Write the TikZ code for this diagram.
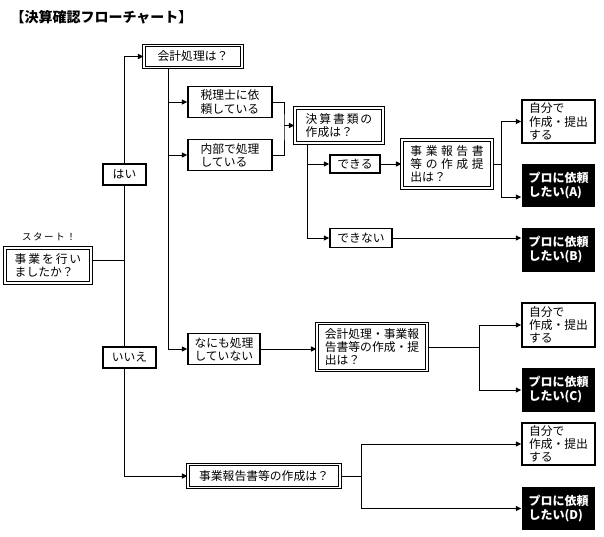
\documentclass[tikz,border=0pt]{standalone}
\usepackage{fontspec}
\setmainfont{Noto Sans CJK JP}
\newfontfamily\widejp[LetterSpace=16]{Noto Sans CJK JP}
\newfontfamily\widerjp[LetterSpace=30]{Noto Sans CJK JP}
\usetikzlibrary{arrows.meta}
\tikzset{box/.style={draw,line width=1.4pt,fill=white,inner sep=0pt,align=left,font=\fontsize{11.8}{13.2}\selectfont}}
\tikzset{qbox/.style={box,double,line width=1.1pt,double distance=1.3pt}}
\tikzset{probox/.style={box,draw=none,fill=black,text=white,font=\fontsize{12}{14}\selectfont\bfseries}}

\begin{document}
\begin{tikzpicture}[x=1pt,y=-1pt,line width=1pt,arr/.style={-{Triangle[length=5.5pt,width=5pt]}}]
\useasboundingbox (0,0) rectangle (604,536);
\node[anchor=west,inner sep=0pt,font=\fontsize{14}{15}\selectfont\bfseries] (title) at (10,17) {【決算確認フローチャート】};
\node[font=\widejp\fontsize{9.5}{10}\selectfont] (startlbl) at (49,237) {スタート！};
\node[qbox,minimum width=86pt,minimum height=35pt] (start) at (48,265.5) {{\widejp 事業を行い}\\ましたか？};
\node[box,minimum width=43pt,minimum height=21pt] (yes) at (124.5,174.5) {はい};
\node[box,minimum width=53pt,minimum height=21pt] (no) at (129.5,357.5) {いいえ};
\node[qbox,minimum width=98pt,minimum height=22pt] (acct) at (193,56.5) {会計処理は？};
\node[box,minimum width=84pt,minimum height=31pt] (tax) at (230,102) {税理士に依\\頼している};
\node[box,minimum width=84pt,minimum height=31pt] (inhouse) at (230,155) {内部で処理\\している};
\node[box,minimum width=72pt,minimum height=31pt] (nothing) at (224,349) {なにも処理\\していない};
\node[qbox,minimum width=88pt,minimum height=35pt] (docs) at (339,125.5) {{\widejp 決算書類の}\\作成は？};
\node[box,minimum width=50pt,minimum height=18pt] (can) at (355,164) {できる};
\node[box,minimum width=62pt,minimum height=19pt] (cannot) at (361,238) {できない};
\node[qbox,minimum width=90pt,minimum height=48pt] (rep1) at (447,164) {{\widerjp 事業報告書}\\{\widerjp 等の作成提}\\出は？};
\node[qbox,minimum width=110pt,minimum height=47pt] (rep2) at (372,347) {会計処理・事業報\\告書等の作成・提\\出は？};
\node[qbox,minimum width=152pt,minimum height=23pt] (rep3) at (264,476) {事業報告書等の作成は？};
\node[box,minimum width=73pt,minimum height=43pt] (self1) at (558.5,121.5) {自分で\\作成・提出\\する};
\node[probox,minimum width=73pt,minimum height=43pt] (proA) at (558.5,185.5) {プロに依頼\\したい(A)};
\node[probox,minimum width=73pt,minimum height=44pt] (proB) at (558.5,250) {プロに依頼\\したい(B)};
\node[box,minimum width=73pt,minimum height=44pt] (self2) at (558.5,325) {自分で\\作成・提出\\する};
\node[probox,minimum width=73pt,minimum height=44pt] (proC) at (558.5,390) {プロに依頼\\したい(C)};
\node[box,minimum width=73pt,minimum height=42pt] (self3) at (558.5,444) {自分で\\作成・提出\\する};
\node[probox,minimum width=73pt,minimum height=43pt] (proD) at (558.5,508.5) {プロに依頼\\したい(D)};
\coordinate (k1) at (168,0);
\coordinate (k2) at (307,0);
\coordinate (j1) at (284,125.5);
\coordinate (j2) at (501,164);
\coordinate (j3) at (479,347);
\coordinate (j4) at (361,476);
\draw ([yshift=5.5pt]start.east) -- ([yshift=5.5pt]start.east -| yes.south);
\draw[arr] (yes.north) |- (acct);
\draw (yes.south) -- (yes.south |- no.north);
\draw[arr] (yes.south |- no.south) |- (rep3);
\draw[arr] (acct.south -| k1) |- (tax);
\draw[arr] (acct.south -| k1) |- (inhouse);
\draw[arr] (acct.south -| k1) |- (nothing);
\draw (tax) -| (j1) |- (inhouse);
\draw[arr] (j1) -- (docs);
\draw[arr] (docs.south -| k2) |- (can);
\draw[arr] (docs.south -| k2) |- (cannot);
\draw[arr] (can) -- (rep1);
\draw (rep1) -- (j2);
\draw[arr] (j2) |- (self1);
\draw[arr] (j2) |- ([yshift=-11.5pt]proA.west);
\draw[arr] (cannot) -- (cannot -| proB.west);
\draw[arr] (nothing) -- (nothing -| rep2.west);
\draw (rep2) -- (j3);
\draw[arr] (j3) |- (self2);
\draw[arr] (j3) |- (proC);
\draw (rep3) -- (j4);
\draw[arr] (j4) |- (self3);
\draw[arr] (j4) |- (proD);
\end{tikzpicture}
\end{document}
